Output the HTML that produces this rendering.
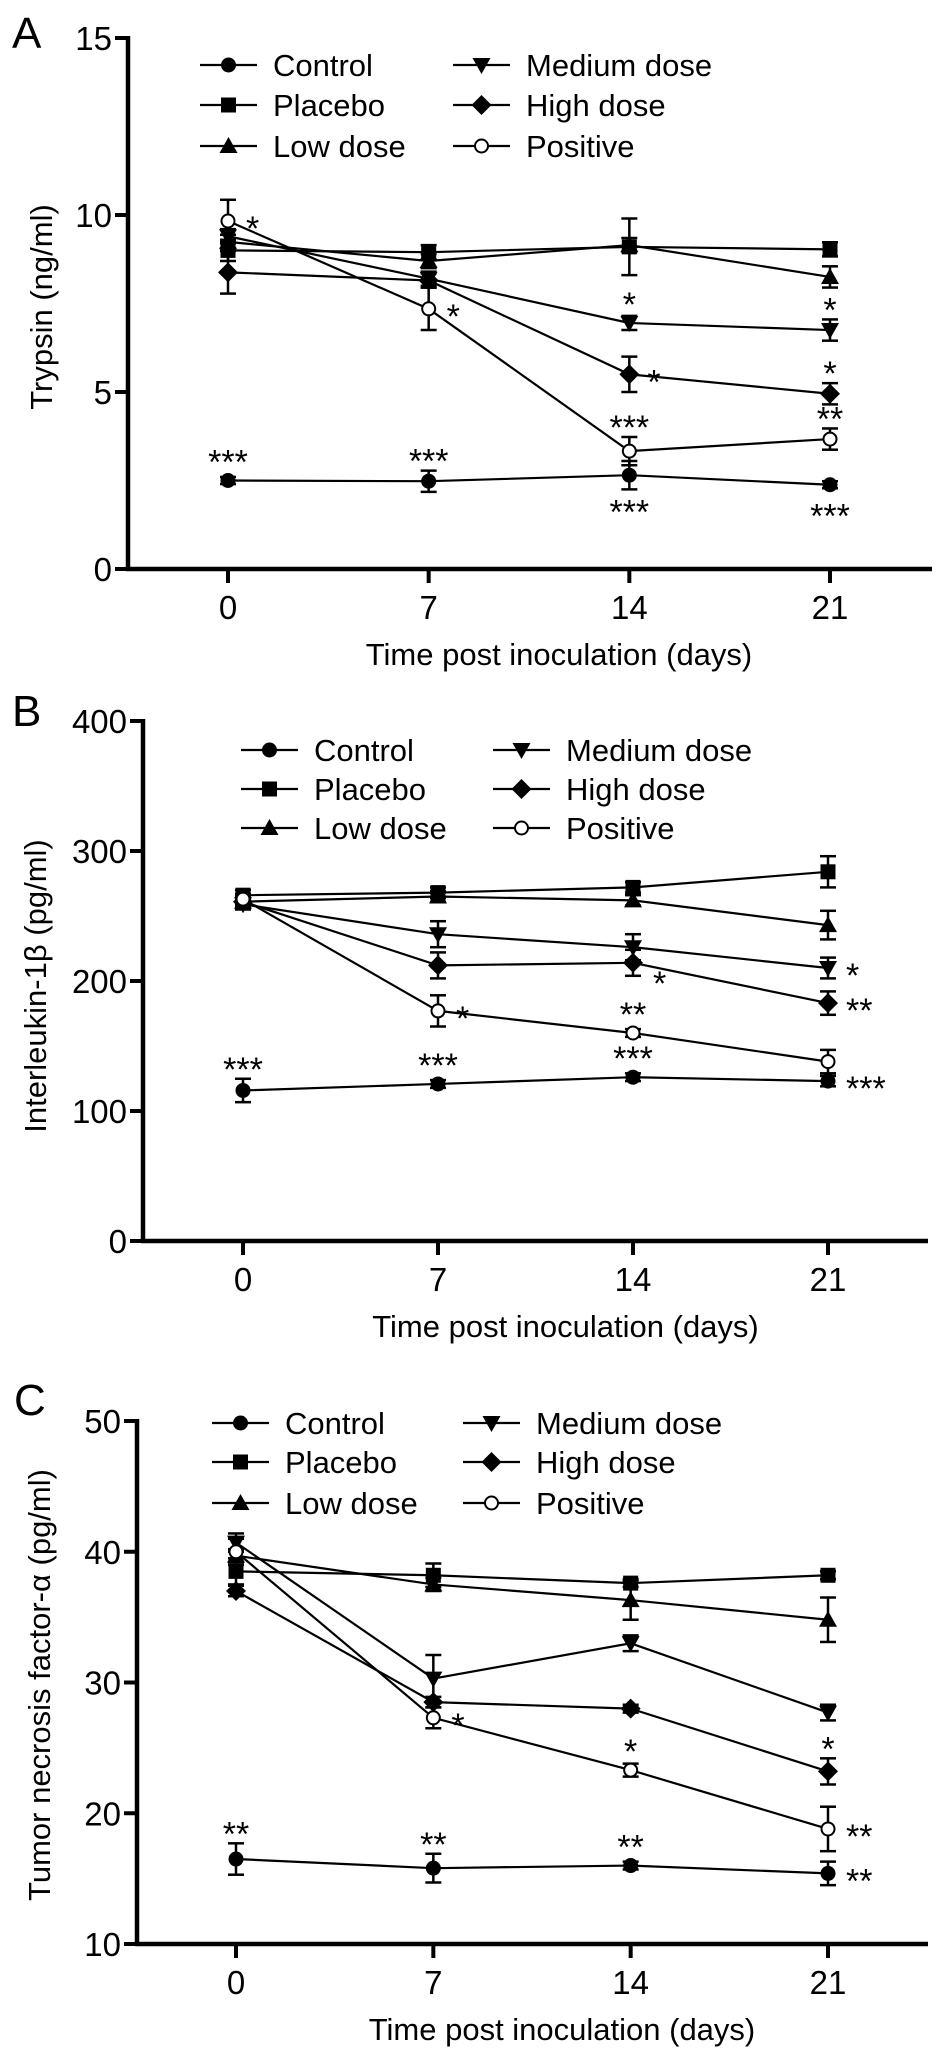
<!DOCTYPE html>
<html><head><meta charset="utf-8">
<style>
html,body{margin:0;padding:0;background:#fff;}
svg{display:block;}
text{font-family:"Liberation Sans",Arial,sans-serif;fill:#000;}
</style></head>
<body>
<svg id="fig" width="945" height="2053" viewBox="0 0 945 2053" xmlns="http://www.w3.org/2000/svg"></svg>
<script>
// ---------- DATA ----------
const days = [0, 7, 14, 21];
const seriesNames = ["Control", "Placebo", "Low dose", "Medium dose", "High dose", "Positive"];
const markerTypes = ["circle", "square", "triUp", "triDown", "diamond", "open"];

// Panel A - Trypsin (ng/ml)
const aControl = [2.5, 2.48, 2.65, 2.38];
const aPlacebo = [9.0, 8.95, 9.1, 9.03];
const aLow = [9.24, 8.7, 9.15, 8.25];
const aMedium = [9.4, 8.2, 6.95, 6.75];
const aHigh = [8.38, 8.15, 5.5, 4.95];
const aPositive = [9.83, 7.35, 3.33, 3.67];
const aControlErr = [0.1, 0.3, 0.4, 0.1];
const aPlaceboErr = [0.3, 0.2, 0.8, 0.2];
const aLowErr = [0.2, 0.2, 0.2, 0.3];
const aMediumErr = [0.2, 0.2, 0.2, 0.3];
const aHighErr = [0.6, 0.2, 0.5, 0.3];
const aPositiveErr = [0.6, 0.6, 0.4, 0.3];
const aTicks = [0, 5, 10, 15];

// Panel B - Interleukin-1β (pg/ml)
const bControl = [115.8, 120.8, 126, 123];
const bPlacebo = [266, 268, 272, 284];
const bLow = [261, 265, 262, 243];
const bMedium = [259, 236, 226, 210];
const bHigh = [261, 212, 214, 183];
const bPositive = [263, 177, 160, 138];
const bControlErr = [9, 3, 3, 4];
const bPlaceboErr = [4, 4, 4, 12];
const bLowErr = [4, 4, 4, 11];
const bMediumErr = [4, 10, 10, 8];
const bHighErr = [4, 10, 10, 9];
const bPositiveErr = [4, 12, 3, 9];
const bTicks = [0, 100, 200, 300, 400];

// Panel C - TNF-α (pg/ml)
const cControl = [16.5, 15.8, 16.0, 15.4];
const cPlacebo = [38.5, 38.2, 37.6, 38.2];
const cLow = [39.7, 37.5, 36.3, 34.8];
const cMedium = [40.7, 30.3, 33.0, 27.7];
const cHigh = [37.0, 28.5, 28.0, 23.2];
const cPositive = [40.0, 27.3, 23.3, 18.8];
const cControlErr = [1.2, 1.1, 0.3, 0.9];
const cPlaceboErr = [1.0, 0.9, 0.3, 0.3];
const cLowErr = [0.5, 0.5, 1.5, 1.7];
const cMediumErr = [0.7, 1.8, 0.6, 0.6];
const cHighErr = [0.4, 0.4, 0.3, 1.0];
const cPositiveErr = [1.0, 0.8, 0.5, 1.7];
const cTicks = [10, 20, 30, 40, 50];

// significance labels: [series index, day index, label, placement]
const aStars = [[5,0,"*","right"],[0,0,"***","above"],[5,1,"*","right"],[0,1,"***","above"],
  [3,2,"*","above"],[4,2,"*","right"],[5,2,"***","above"],[0,2,"***","below"],
  [3,3,"*","above"],[4,3,"*","above"],[5,3,"**","above"],[0,3,"***","below"]];
const bStars = [[0,0,"***","above"],[5,1,"*","right"],[0,1,"***","above"],
  [4,2,"*","belowright"],[5,2,"**","above"],[0,2,"***","above"],
  [3,3,"*","right"],[4,3,"**","right"],[0,3,"***","right"]];
const cStars = [[0,0,"**","above"],[5,1,"*","right"],[0,1,"**","above"],
  [5,2,"*","above"],[0,2,"**","above"],
  [4,3,"*","above"],[5,3,"**","right"],[0,3,"**","right"]];

// ---------- DRAWING ----------
const NS = "http://www.w3.org/2000/svg";
const svg = document.getElementById("fig");
function mk(tag, attrs, parent) {
  const e = document.createElementNS(NS, tag);
  for (const k in attrs) e.setAttribute(k, attrs[k]);
  (parent || svg).appendChild(e);
  return e;
}

function marker(g, type, x, y) {
  let e;
  if (type === "circle") e = mk("circle", {cx:x, cy:y, r:7.5, fill:"#000"}, g);
  else if (type === "square") e = mk("rect", {x:x-7.5, y:y-7.5, width:15, height:15, fill:"#000"}, g);
  else if (type === "triUp") e = mk("polygon", {points:`${x},${y-9} ${x-9},${y+7} ${x+9},${y+7}`, fill:"#000"}, g);
  else if (type === "triDown") e = mk("polygon", {points:`${x},${y+9} ${x-9},${y-7} ${x+9},${y-7}`, fill:"#000"}, g);
  else if (type === "diamond") e = mk("polygon", {points:`${x},${y-10} ${x+10},${y} ${x},${y+10} ${x-10},${y}`, fill:"#000"}, g);
  else e = mk("circle", {cx:x, cy:y, r:6.5, fill:"#fff", stroke:"#000", "stroke-width":2}, g);
  
  
  return e;
}

function drawPanel(p) {
  const g = mk("g", {});
  
  
  const yScale = v => p.y0 + (v - p.ticks[0]) / (p.ticks[p.ticks.length-1] - p.ticks[0]) * (p.y1 - p.y0);
  const xScale = d => p.x0 + d / 21 * (p.x21 - p.x0);

  const L = mk("text", {x:p.letterX, y:p.letterY, "font-size":44}, g);
  L.textContent = p.letter;
  
  

  const ax = mk("g", {}, g);
  
  
  mk("line", {x1:p.axisX, y1:yScale(p.ticks[p.ticks.length-1])-2, x2:p.axisX, y2:p.y0+2, stroke:"#000", "stroke-width":4.5}, ax);
  mk("line", {x1:p.axisX-2, y1:p.y0, x2:p.xEnd, y2:p.y0, stroke:"#000", "stroke-width":4.5}, ax);
  p.ticks.forEach(t => {
    const y = yScale(t);
    mk("line", {x1:p.axisX-13, y1:y, x2:p.axisX, y2:y, stroke:"#000", "stroke-width":4}, ax);
    const tt = mk("text", {x:p.axisX-16, y:y+12, "font-size":33, "text-anchor":"end"}, ax);
    tt.textContent = t;
    
    
  });
  days.forEach(d => {
    const x = xScale(d);
    mk("line", {x1:x, y1:p.y0, x2:x, y2:p.y0+14, stroke:"#000", "stroke-width":4}, ax);
    const tt = mk("text", {x:x, y:p.y0+50, "font-size":33, "text-anchor":"middle"}, ax);
    tt.textContent = d;
    
    
  });
  const xt = mk("text", {x:(p.x0+p.x21)/2+30, y:p.y0+96, "font-size":31, "text-anchor":"middle"}, g);
  xt.textContent = "Time post inoculation (days)";
  
  
  const yt = mk("text", {x:0, y:0, "font-size":31, "text-anchor":"middle", transform:`translate(${p.ytX},${p.ytY}) rotate(-90)`}, g);
  yt.textContent = p.yTitle;
  
  

  p.series.forEach((vals, si) => {
    const sg = mk("g", {}, g);
    
    
    const pts = vals.map((v, i) => `${xScale(days[i])},${yScale(v)}`).join(" ");
    mk("polyline", {points:pts, fill:"none", stroke:"#000", "stroke-width":2.2}, sg);
    vals.forEach((v, i) => {
      const x = xScale(days[i]);
      const e = p.errs[si][i];
      const yt2 = yScale(v + e), yb = yScale(v - e);
      const eb = mk("g", {}, sg);
      
      
      mk("line", {x1:x, y1:yt2, x2:x, y2:yb, stroke:"#000", "stroke-width":2.5}, eb);
      mk("line", {x1:x-8, y1:yt2, x2:x+8, y2:yt2, stroke:"#000", "stroke-width":2.5}, eb);
      mk("line", {x1:x-8, y1:yb, x2:x+8, y2:yb, stroke:"#000", "stroke-width":2.5}, eb);
    });
    vals.forEach((v, i) => marker(sg, markerTypes[si], xScale(days[i]), yScale(v)));
  });

  p.stars.forEach(s => {
    const [si, di, lab, pl] = s;
    const v = p.series[si][di], e = p.errs[si][di];
    const x = xScale(days[di]), y = yScale(v);
    const top = Math.min(yScale(v + e), y - 9), bot = Math.max(yScale(v - e), y + 9);
    let tx = x, ty, anchor = "middle";
    if (pl === "above") ty = top + 2;
    else if (pl === "below") ty = bot + 34;
    else if (pl === "belowright") { tx = x + 20; ty = y + 32; anchor = "start"; }
    else { tx = x + 18; ty = y + 19; anchor = "start"; }
    const st = mk("text", {x:tx, y:ty, "font-size":34, "text-anchor":anchor}, g);
    st.textContent = lab;
    
    
  });

  const lg = mk("g", {}, g);
  
  
  seriesNames.forEach((n, i) => {
    const col = Math.floor(i / 3), row = i % 3;
    const lx = p.leg.cols[col], ly = p.leg.rows[row];
    const le = mk("g", {}, lg);
    
    
    mk("line", {x1:lx, y1:ly, x2:lx+57, y2:ly, stroke:"#000", "stroke-width":2.2}, le);
    marker(le, markerTypes[i], lx+28.5, ly);
    const t = mk("text", {x:lx+73, y:ly+11, "font-size":31}, le);
    t.textContent = n;
  });
}

drawPanel({name:"panel-a-trypsin", letter:"A", letterX:12, letterY:48,
  axisX:128, y0:569, y1:38, x0:228, x21:830, xEnd:932, ticks:aTicks,
  yTitle:"Trypsin (ng/ml)", ytX:52, ytY:307,
  series:[aControl,aPlacebo,aLow,aMedium,aHigh,aPositive],
  errs:[aControlErr,aPlaceboErr,aLowErr,aMediumErr,aHighErr,aPositiveErr],
  stars:aStars, leg:{cols:[200,453], rows:[65,105,146]}});

drawPanel({name:"panel-b-interleukin", letter:"B", letterX:12, letterY:726,
  axisX:143, y0:1241, y1:721, x0:243, x21:828, xEnd:928, ticks:bTicks,
  yTitle:"Interleukin-1β (pg/ml)", ytX:46, ytY:986,
  series:[bControl,bPlacebo,bLow,bMedium,bHigh,bPositive],
  errs:[bControlErr,bPlaceboErr,bLowErr,bMediumErr,bHighErr,bPositiveErr],
  stars:bStars, leg:{cols:[241,493], rows:[750,789,828]}});

drawPanel({name:"panel-c-tnf", letter:"C", letterX:14, letterY:1415,
  axisX:137, y0:1944, y1:1421, x0:236, x21:828, xEnd:928, ticks:cTicks,
  yTitle:"Tumor necrosis factor-α (pg/ml)", ytX:50, ytY:1685,
  series:[cControl,cPlacebo,cLow,cMedium,cHigh,cPositive],
  errs:[cControlErr,cPlaceboErr,cLowErr,cMediumErr,cHighErr,cPositiveErr],
  stars:cStars, leg:{cols:[212,463], rows:[1423,1462,1503]}});
</script>
</body></html>
